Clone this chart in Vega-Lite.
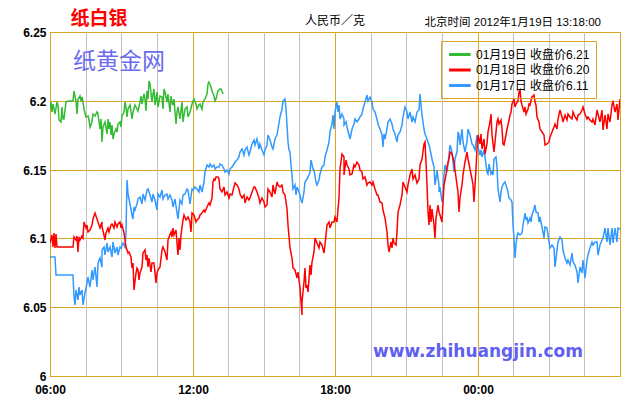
{
  "$schema": "https://vega.github.io/schema/vega-lite/v6.json",
  "width": 570,
  "height": 344,
  "autosize": {"type": "none"},
  "padding": {"left": 50, "top": 32, "right": 20, "bottom": 24},
  "background": "white",
  "config": {
    "view": {"stroke": "#daa520", "strokeWidth": 1},
    "axis": {"domain": false, "ticks": false, "labelFont": "Liberation Sans", "labelFontWeight": "bold", "labelFontSize": 12, "labelColor": "#000000", "gridWidth": 1, "gridOpacity": 1, "gridColor": "#daa520"}
  },
  "layer": [
    {
      "data": {"values": [{"g": 7.5}, {"g": 9}, {"g": 10.5}, {"g": 13.5}, {"g": 15}, {"g": 16.5}, {"g": 19.5}, {"g": 21}, {"g": 22.5}, {"g": 25.5}, {"g": 27}, {"g": 28.5}]},
      "mark": {"type": "rule", "color": "#c0c0c0", "strokeWidth": 1, "xOffset": 0.5},
      "encoding": {"x": {"field": "g", "type": "quantitative", "axis": {"title": null}}}
    },
    {
      "data": {"values": [
        {"s":"17","t":6.00,"v":6.0862},{"s":"17","t":6.21,"v":6.0862},{"s":"17","t":6.24,"v":6.0734},{"s":"17","t":6.98,"v":6.0734},{"s":"17","t":7.01,"v":6.0577},{"s":"17","t":7.05,"v":6.0517},{"s":"17","t":7.11,"v":6.0625},{"s":"17","t":7.16,"v":6.0553},{"s":"17","t":7.22,"v":6.0649},{"s":"17","t":7.28,"v":6.0589},{"s":"17","t":7.33,"v":6.0625},{"s":"17","t":7.40,"v":6.0517},{"s":"17","t":7.47,"v":6.0601},{"s":"17","t":7.54,"v":6.0674},{"s":"17","t":7.61,"v":6.0722},{"s":"17","t":7.68,"v":6.0649},{"s":"17","t":7.75,"v":6.0770},{"s":"17","t":7.82,"v":6.0698},{"s":"17","t":7.89,"v":6.0794},{"s":"17","t":7.96,"v":6.0649},{"s":"17","t":8.03,"v":6.0818},{"s":"17","t":8.10,"v":6.0855},{"s":"17","t":8.17,"v":6.0794},{"s":"17","t":8.21,"v":6.0915},{"s":"17","t":8.27,"v":6.0939},{"s":"17","t":8.31,"v":6.0879},{"s":"17","t":8.38,"v":6.0963},{"s":"17","t":8.45,"v":6.0903},{"s":"17","t":8.52,"v":6.0939},{"s":"17","t":8.59,"v":6.0867},{"s":"17","t":8.66,"v":6.0975},{"s":"17","t":8.73,"v":6.0891},{"s":"17","t":8.80,"v":6.0939},{"s":"17","t":8.87,"v":6.0879},{"s":"17","t":8.94,"v":6.0939},{"s":"17","t":9.01,"v":6.0927},{"s":"17","t":9.08,"v":6.0963},{"s":"17","t":9.15,"v":6.0939},{"s":"17","t":9.20,"v":6.1036},{"s":"17","t":9.24,"v":6.1422},{"s":"17","t":9.30,"v":6.1326},{"s":"17","t":9.37,"v":6.1253},{"s":"17","t":9.44,"v":6.1169},{"s":"17","t":9.48,"v":6.1144},{"s":"17","t":9.52,"v":6.1229},{"s":"17","t":9.58,"v":6.1205},{"s":"17","t":9.65,"v":6.1253},{"s":"17","t":9.72,"v":6.1289},{"s":"17","t":9.79,"v":6.1301},{"s":"17","t":9.86,"v":6.1253},{"s":"17","t":9.93,"v":6.1326},{"s":"17","t":10.00,"v":6.1277},{"s":"17","t":10.07,"v":6.1350},{"s":"17","t":10.14,"v":6.1362},{"s":"17","t":10.21,"v":6.1314},{"s":"17","t":10.28,"v":6.1265},{"s":"17","t":10.35,"v":6.1326},{"s":"17","t":10.42,"v":6.1277},{"s":"17","t":10.49,"v":6.1205},{"s":"17","t":10.56,"v":6.1326},{"s":"17","t":10.63,"v":6.1301},{"s":"17","t":10.70,"v":6.1350},{"s":"17","t":10.77,"v":6.1289},{"s":"17","t":10.84,"v":6.1314},{"s":"17","t":10.91,"v":6.1326},{"s":"17","t":10.98,"v":6.1289},{"s":"17","t":11.05,"v":6.1314},{"s":"17","t":11.12,"v":6.1277},{"s":"17","t":11.19,"v":6.1229},{"s":"17","t":11.26,"v":6.1289},{"s":"17","t":11.33,"v":6.1181},{"s":"17","t":11.37,"v":6.1144},{"s":"17","t":11.43,"v":6.1217},{"s":"17","t":11.48,"v":6.1277},{"s":"17","t":11.54,"v":6.1253},{"s":"17","t":11.61,"v":6.1314},{"s":"17","t":11.68,"v":6.1326},{"s":"17","t":11.75,"v":6.1362},{"s":"17","t":11.82,"v":6.1350},{"s":"17","t":11.89,"v":6.1253},{"s":"17","t":11.96,"v":6.1362},{"s":"17","t":12.03,"v":6.1350},{"s":"17","t":12.10,"v":6.1374},{"s":"17","t":12.21,"v":6.1362},
        {"s":"17","t":12.26,"v":6.1338},{"s":"17","t":12.33,"v":6.1387},{"s":"17","t":12.40,"v":6.1338},{"s":"17","t":12.47,"v":6.1411},{"s":"17","t":12.54,"v":6.1483},{"s":"17","t":12.61,"v":6.1531},{"s":"17","t":12.68,"v":6.1519},{"s":"17","t":12.75,"v":6.1544},{"s":"17","t":12.82,"v":6.1519},{"s":"17","t":12.89,"v":6.1531},{"s":"17","t":12.96,"v":6.1507},{"s":"17","t":13.03,"v":6.1519},{"s":"17","t":13.10,"v":6.1519},{"s":"17","t":13.17,"v":6.1544},{"s":"17","t":13.24,"v":6.1531},{"s":"17","t":13.31,"v":6.1507},{"s":"17","t":13.38,"v":6.1483},{"s":"17","t":13.45,"v":6.1495},{"s":"17","t":13.52,"v":6.1471},{"s":"17","t":13.59,"v":6.1507},{"s":"17","t":13.66,"v":6.1519},{"s":"17","t":13.73,"v":6.1544},{"s":"17","t":13.80,"v":6.1556},{"s":"17","t":13.87,"v":6.1568},{"s":"17","t":13.94,"v":6.1592},{"s":"17","t":14.01,"v":6.1628},{"s":"17","t":14.08,"v":6.1652},{"s":"17","t":14.15,"v":6.1604},{"s":"17","t":14.22,"v":6.1640},{"s":"17","t":14.29,"v":6.1664},{"s":"17","t":14.36,"v":6.1604},{"s":"17","t":14.43,"v":6.1628},{"s":"17","t":14.50,"v":6.1688},{"s":"17","t":14.57,"v":6.1713},{"s":"17","t":14.64,"v":6.1676},{"s":"17","t":14.71,"v":6.1725},{"s":"17","t":14.78,"v":6.1652},{"s":"17","t":14.85,"v":6.1688},{"s":"17","t":14.92,"v":6.1640},{"s":"17","t":14.99,"v":6.1604},{"s":"17","t":15.06,"v":6.1640},{"s":"17","t":15.13,"v":6.1676},{"s":"17","t":15.20,"v":6.1749},{"s":"17","t":15.27,"v":6.1713},{"s":"17","t":15.34,"v":6.1664},{"s":"17","t":15.41,"v":6.1652},{"s":"17","t":15.48,"v":6.1725},{"s":"17","t":15.55,"v":6.1749},{"s":"17","t":15.62,"v":6.1797},{"s":"17","t":15.69,"v":6.1882},{"s":"17","t":15.76,"v":6.1942},{"s":"17","t":15.83,"v":6.2002},{"s":"17","t":15.88,"v":6.2014},{"s":"17","t":15.92,"v":6.1942},{"s":"17","t":15.97,"v":6.1821},{"s":"17","t":16.02,"v":6.1700},{"s":"17","t":16.06,"v":6.1640},{"s":"17","t":16.11,"v":6.1628},{"s":"17","t":16.16,"v":6.1531},{"s":"17","t":16.20,"v":6.1459},{"s":"17","t":16.25,"v":6.1362},{"s":"17","t":16.32,"v":6.1387},{"s":"17","t":16.37,"v":6.1314},{"s":"17","t":16.42,"v":6.1374},{"s":"17","t":16.48,"v":6.1338},{"s":"17","t":16.53,"v":6.1314},{"s":"17","t":16.58,"v":6.1278},{"s":"17","t":16.63,"v":6.1254},{"s":"17","t":16.68,"v":6.1338},{"s":"17","t":16.74,"v":6.1411},{"s":"17","t":16.81,"v":6.1435},{"s":"17","t":16.89,"v":6.1459},{"s":"17","t":16.96,"v":6.1483},{"s":"17","t":17.01,"v":6.1568},{"s":"17","t":17.07,"v":6.1507},{"s":"17","t":17.12,"v":6.1495},{"s":"17","t":17.18,"v":6.1411},{"s":"17","t":17.24,"v":6.1387},{"s":"17","t":17.31,"v":6.1423},{"s":"17","t":17.38,"v":6.1471},{"s":"17","t":17.45,"v":6.1519},{"s":"17","t":17.52,"v":6.1531},{"s":"17","t":17.59,"v":6.1592},{"s":"17","t":17.66,"v":6.1640},{"s":"17","t":17.73,"v":6.1700},{"s":"17","t":17.80,"v":6.1773},{"s":"17","t":17.87,"v":6.1833},{"s":"17","t":17.91,"v":6.1894},{"s":"17","t":17.97,"v":6.1797},{"s":"17","t":18.02,"v":6.1918},{"s":"17","t":18.08,"v":6.1990},
        {"s":"17","t":18.12,"v":6.1918},{"s":"17","t":18.18,"v":6.1966},{"s":"17","t":18.23,"v":6.1870},{"s":"17","t":18.29,"v":6.1906},{"s":"17","t":18.36,"v":6.1870},{"s":"17","t":18.40,"v":6.1821},{"s":"17","t":18.46,"v":6.1845},{"s":"17","t":18.51,"v":6.1809},{"s":"17","t":18.57,"v":6.1749},{"s":"17","t":18.64,"v":6.1725},{"s":"17","t":18.71,"v":6.1797},{"s":"17","t":18.78,"v":6.1833},{"s":"17","t":18.85,"v":6.1870},{"s":"17","t":18.92,"v":6.1845},{"s":"17","t":18.99,"v":6.1870},{"s":"17","t":19.06,"v":6.1882},{"s":"17","t":19.13,"v":6.1906},{"s":"17","t":19.20,"v":6.1942},{"s":"17","t":19.27,"v":6.1990},{"s":"17","t":19.34,"v":6.2039},{"s":"17","t":19.41,"v":6.2002},{"s":"17","t":19.48,"v":6.2026},{"s":"17","t":19.55,"v":6.1990},{"s":"17","t":19.62,"v":6.1942},{"s":"17","t":19.69,"v":6.1918},{"s":"17","t":19.76,"v":6.1870},{"s":"17","t":19.83,"v":6.1833},{"s":"17","t":19.90,"v":6.1797},{"s":"17","t":19.97,"v":6.1749},{"s":"17","t":20.01,"v":6.1664},{"s":"17","t":20.07,"v":6.1761},{"s":"17","t":20.11,"v":6.1725},{"s":"17","t":20.18,"v":6.1797},{"s":"17","t":20.25,"v":6.1845},{"s":"17","t":20.32,"v":6.1870},{"s":"17","t":20.39,"v":6.1833},{"s":"17","t":20.46,"v":6.1797},{"s":"17","t":20.53,"v":6.1761},{"s":"17","t":20.60,"v":6.1700},{"s":"17","t":20.67,"v":6.1749},{"s":"17","t":20.74,"v":6.1773},{"s":"17","t":20.81,"v":6.1821},{"s":"17","t":20.88,"v":6.1882},{"s":"17","t":20.95,"v":6.1954},{"s":"17","t":21.02,"v":6.1918},{"s":"17","t":21.09,"v":6.1870},{"s":"17","t":21.16,"v":6.1918},{"s":"17","t":21.23,"v":6.1845},{"s":"17","t":21.30,"v":6.1882},{"s":"17","t":21.38,"v":6.1845},{"s":"17","t":21.45,"v":6.1918},{"s":"17","t":21.52,"v":6.1930},{"s":"17","t":21.59,"v":6.2051},{"s":"17","t":21.63,"v":6.1966},{"s":"17","t":21.68,"v":6.1894},{"s":"17","t":21.74,"v":6.1797},{"s":"17","t":21.80,"v":6.1761},{"s":"17","t":21.87,"v":6.1725},{"s":"17","t":21.94,"v":6.1676},{"s":"17","t":22.01,"v":6.1652},{"s":"17","t":22.08,"v":6.1580},{"s":"17","t":22.15,"v":6.1519},{"s":"17","t":22.22,"v":6.1387},{"s":"17","t":22.26,"v":6.1435},{"s":"17","t":22.30,"v":6.1495},{"s":"17","t":22.36,"v":6.1387},{"s":"17","t":22.40,"v":6.1338},{"s":"17","t":22.44,"v":6.1374},{"s":"17","t":22.50,"v":6.1266},{"s":"17","t":22.54,"v":6.1290},{"s":"17","t":22.58,"v":6.1459},{"s":"17","t":22.64,"v":6.1531},{"s":"17","t":22.71,"v":6.1483},{"s":"17","t":22.78,"v":6.1604},{"s":"17","t":22.85,"v":6.1676},{"s":"17","t":22.92,"v":6.1628},{"s":"17","t":22.99,"v":6.1483},{"s":"17","t":23.06,"v":6.1580},{"s":"17","t":23.13,"v":6.1628},{"s":"17","t":23.17,"v":6.1773},{"s":"17","t":23.23,"v":6.1749},{"s":"17","t":23.28,"v":6.1676},{"s":"17","t":23.34,"v":6.1797},{"s":"17","t":23.41,"v":6.1700},{"s":"17","t":23.48,"v":6.1628},{"s":"17","t":23.55,"v":6.1700},{"s":"17","t":23.62,"v":6.1797},{"s":"17","t":23.69,"v":6.1749},{"s":"17","t":23.76,"v":6.1688},{"s":"17","t":23.83,"v":6.1676},{"s":"17","t":23.90,"v":6.1640},
        {"s":"17","t":23.97,"v":6.1749},{"s":"17","t":24.04,"v":6.1664},{"s":"17","t":24.10,"v":6.1604},{"s":"17","t":24.15,"v":6.1640},{"s":"17","t":24.21,"v":6.1592},{"s":"17","t":24.26,"v":6.1640},{"s":"17","t":24.32,"v":6.1592},{"s":"17","t":24.38,"v":6.1483},{"s":"17","t":24.43,"v":6.1471},{"s":"17","t":24.49,"v":6.1544},{"s":"17","t":24.55,"v":6.1471},{"s":"17","t":24.60,"v":6.1483},{"s":"17","t":24.66,"v":6.1459},{"s":"17","t":24.71,"v":6.1580},{"s":"17","t":24.77,"v":6.1592},{"s":"17","t":24.83,"v":6.1519},{"s":"17","t":24.88,"v":6.1362},{"s":"17","t":24.94,"v":6.1266},{"s":"17","t":24.99,"v":6.1338},{"s":"17","t":25.05,"v":6.1374},{"s":"17","t":25.11,"v":6.1399},{"s":"17","t":25.16,"v":6.1411},{"s":"17","t":25.22,"v":6.1387},{"s":"17","t":25.27,"v":6.1338},{"s":"17","t":25.33,"v":6.1290},{"s":"17","t":25.39,"v":6.1278},{"s":"17","t":25.44,"v":6.1266},{"s":"17","t":25.49,"v":6.1097},{"s":"17","t":25.53,"v":6.1000},{"s":"17","t":25.56,"v":6.0855},{"s":"17","t":25.60,"v":6.0952},{"s":"17","t":25.65,"v":6.1012},{"s":"17","t":25.72,"v":6.1036},{"s":"17","t":25.79,"v":6.1024},{"s":"17","t":25.86,"v":6.1036},{"s":"17","t":25.93,"v":6.1097},{"s":"17","t":25.98,"v":6.1181},{"s":"17","t":26.03,"v":6.1133},{"s":"17","t":26.09,"v":6.1157},{"s":"17","t":26.14,"v":6.1109},{"s":"17","t":26.20,"v":6.1145},{"s":"17","t":26.26,"v":6.1121},{"s":"17","t":26.31,"v":6.1169},{"s":"17","t":26.37,"v":6.1217},{"s":"17","t":26.43,"v":6.1242},{"s":"17","t":26.48,"v":6.1193},{"s":"17","t":26.54,"v":6.1181},{"s":"17","t":26.59,"v":6.1121},{"s":"17","t":26.65,"v":6.1157},{"s":"17","t":26.71,"v":6.1085},{"s":"17","t":26.78,"v":6.1000},{"s":"17","t":26.85,"v":6.1085},{"s":"17","t":26.92,"v":6.1073},{"s":"17","t":26.99,"v":6.0976},{"s":"17","t":27.06,"v":6.0928},{"s":"17","t":27.13,"v":6.0952},{"s":"17","t":27.20,"v":6.0928},{"s":"17","t":27.27,"v":6.0795},{"s":"17","t":27.34,"v":6.0916},{"s":"17","t":27.41,"v":6.0976},{"s":"17","t":27.48,"v":6.1012},{"s":"17","t":27.55,"v":6.0988},{"s":"17","t":27.62,"v":6.0916},{"s":"17","t":27.69,"v":6.0855},{"s":"17","t":27.76,"v":6.0819},{"s":"17","t":27.83,"v":6.0843},{"s":"17","t":27.90,"v":6.0807},{"s":"17","t":27.97,"v":6.0891},{"s":"17","t":28.04,"v":6.0831},{"s":"17","t":28.11,"v":6.0807},{"s":"17","t":28.18,"v":6.0759},{"s":"17","t":28.25,"v":6.0674},{"s":"17","t":28.32,"v":6.0795},{"s":"17","t":28.39,"v":6.0747},{"s":"17","t":28.46,"v":6.0843},{"s":"17","t":28.53,"v":6.0710},{"s":"17","t":28.60,"v":6.0843},{"s":"17","t":28.67,"v":6.0879},{"s":"17","t":28.74,"v":6.0928},{"s":"17","t":28.81,"v":6.0976},{"s":"17","t":28.88,"v":6.0952},{"s":"17","t":28.95,"v":6.0976},{"s":"17","t":29.02,"v":6.0976},{"s":"17","t":29.09,"v":6.0879},{"s":"17","t":29.16,"v":6.0952},{"s":"17","t":29.23,"v":6.0988},{"s":"17","t":29.30,"v":6.1000},{"s":"17","t":29.37,"v":6.1073},{"s":"17","t":29.44,"v":6.0976},{"s":"17","t":29.51,"v":6.1073},{"s":"17","t":29.58,"v":6.0952},{"s":"17","t":29.65,"v":6.1073},{"s":"17","t":29.72,"v":6.0964},{"s":"17","t":29.79,"v":6.1073},{"s":"17","t":29.86,"v":6.0976},{"s":"17","t":29.93,"v":6.1073},{"s":"17","t":29.99,"v":6.1070},
        {"s":"18","t":6.00,"v":6.0963},{"s":"18","t":6.07,"v":6.1024},{"s":"18","t":6.11,"v":6.0939},{"s":"18","t":6.15,"v":6.1036},{"s":"18","t":6.19,"v":6.0927},{"s":"18","t":6.24,"v":6.1031},{"s":"18","t":6.28,"v":6.0939},{"s":"18","t":6.63,"v":6.0939},{"s":"18","t":6.98,"v":6.0939},{"s":"18","t":7.01,"v":6.1012},{"s":"18","t":7.08,"v":6.0987},{"s":"18","t":7.12,"v":6.1016},{"s":"18","t":7.16,"v":6.0903},{"s":"18","t":7.22,"v":6.1012},{"s":"18","t":7.28,"v":6.0987},{"s":"18","t":7.33,"v":6.1016},{"s":"18","t":7.39,"v":6.1000},{"s":"18","t":7.44,"v":6.1120},{"s":"18","t":7.50,"v":6.1072},{"s":"18","t":7.56,"v":6.1096},{"s":"18","t":7.61,"v":6.1048},{"s":"18","t":7.68,"v":6.1060},{"s":"18","t":7.75,"v":6.1096},{"s":"18","t":7.82,"v":6.1144},{"s":"18","t":7.89,"v":6.1181},{"s":"18","t":7.96,"v":6.1144},{"s":"18","t":8.03,"v":6.1120},{"s":"18","t":8.10,"v":6.1072},{"s":"18","t":8.17,"v":6.1120},{"s":"18","t":8.21,"v":6.1084},{"s":"18","t":8.27,"v":6.1024},{"s":"18","t":8.31,"v":6.0987},{"s":"18","t":8.36,"v":6.1036},{"s":"18","t":8.43,"v":6.1072},{"s":"18","t":8.50,"v":6.1048},{"s":"18","t":8.57,"v":6.1096},{"s":"18","t":8.62,"v":6.1108},{"s":"18","t":8.69,"v":6.1072},{"s":"18","t":8.73,"v":6.1120},{"s":"18","t":8.80,"v":6.1084},{"s":"18","t":8.87,"v":6.1108},{"s":"18","t":8.94,"v":6.1120},{"s":"18","t":8.99,"v":6.1072},{"s":"18","t":9.04,"v":6.1096},{"s":"18","t":9.10,"v":6.1036},{"s":"18","t":9.15,"v":6.0987},{"s":"18","t":9.22,"v":6.0939},{"s":"18","t":9.27,"v":6.0891},{"s":"18","t":9.34,"v":6.0903},{"s":"18","t":9.41,"v":6.0867},{"s":"18","t":9.46,"v":6.0782},{"s":"18","t":9.51,"v":6.0818},{"s":"18","t":9.55,"v":6.0625},{"s":"18","t":9.60,"v":6.0746},{"s":"18","t":9.65,"v":6.0782},{"s":"18","t":9.72,"v":6.0770},{"s":"18","t":9.76,"v":6.0698},{"s":"18","t":9.81,"v":6.0746},{"s":"18","t":9.88,"v":6.0794},{"s":"18","t":9.93,"v":6.0891},{"s":"18","t":10.00,"v":6.0915},{"s":"18","t":10.04,"v":6.0843},{"s":"18","t":10.10,"v":6.0879},{"s":"18","t":10.14,"v":6.0794},{"s":"18","t":10.18,"v":6.0855},{"s":"18","t":10.25,"v":6.0758},{"s":"18","t":10.31,"v":6.0818},{"s":"18","t":10.39,"v":6.0818},{"s":"18","t":10.45,"v":6.0674},{"s":"18","t":10.50,"v":6.0746},{"s":"18","t":10.56,"v":6.0770},{"s":"18","t":10.63,"v":6.0794},{"s":"18","t":10.70,"v":6.0915},{"s":"18","t":10.77,"v":6.0939},{"s":"18","t":10.84,"v":6.0903},{"s":"18","t":10.91,"v":6.0843},{"s":"18","t":10.95,"v":6.0987},{"s":"18","t":11.02,"v":6.1012},{"s":"18","t":11.08,"v":6.1048},{"s":"18","t":11.12,"v":6.1012},{"s":"18","t":11.16,"v":6.1072},{"s":"18","t":11.22,"v":6.1024},{"s":"18","t":11.29,"v":6.1060},{"s":"18","t":11.34,"v":6.0963},{"s":"18","t":11.39,"v":6.0879},{"s":"18","t":11.43,"v":6.1000},{"s":"18","t":11.48,"v":6.0915},{"s":"18","t":11.53,"v":6.1024},{"s":"18","t":11.58,"v":6.1132},{"s":"18","t":11.65,"v":6.1169},{"s":"18","t":11.72,"v":6.1132},{"s":"18","t":11.79,"v":6.1157},{"s":"18","t":11.88,"v":6.1120},{"s":"18","t":11.93,"v":6.1048},{"s":"18","t":11.99,"v":6.1181},{"s":"18","t":12.07,"v":6.1169},{"s":"18","t":12.14,"v":6.1120},{"s":"18","t":12.21,"v":6.1132},
        {"s":"18","t":12.26,"v":6.1145},{"s":"18","t":12.33,"v":6.1169},{"s":"18","t":12.40,"v":6.1181},{"s":"18","t":12.47,"v":6.1205},{"s":"18","t":12.54,"v":6.1193},{"s":"18","t":12.61,"v":6.1229},{"s":"18","t":12.68,"v":6.1254},{"s":"18","t":12.75,"v":6.1242},{"s":"18","t":12.82,"v":6.1290},{"s":"18","t":12.86,"v":6.1411},{"s":"18","t":12.92,"v":6.1435},{"s":"18","t":12.96,"v":6.1423},{"s":"18","t":13.00,"v":6.1447},{"s":"18","t":13.06,"v":6.1447},{"s":"18","t":13.11,"v":6.1435},{"s":"18","t":13.17,"v":6.1362},{"s":"18","t":13.24,"v":6.1338},{"s":"18","t":13.31,"v":6.1374},{"s":"18","t":13.38,"v":6.1314},{"s":"18","t":13.45,"v":6.1338},{"s":"18","t":13.52,"v":6.1290},{"s":"18","t":13.59,"v":6.1326},{"s":"18","t":13.66,"v":6.1314},{"s":"18","t":13.73,"v":6.1374},{"s":"18","t":13.80,"v":6.1399},{"s":"18","t":13.87,"v":6.1387},{"s":"18","t":13.94,"v":6.1362},{"s":"18","t":14.01,"v":6.1326},{"s":"18","t":14.08,"v":6.1290},{"s":"18","t":14.15,"v":6.1314},{"s":"18","t":14.22,"v":6.1254},{"s":"18","t":14.29,"v":6.1302},{"s":"18","t":14.36,"v":6.1278},{"s":"18","t":14.43,"v":6.1290},{"s":"18","t":14.50,"v":6.1338},{"s":"18","t":14.57,"v":6.1374},{"s":"18","t":14.64,"v":6.1374},{"s":"18","t":14.71,"v":6.1338},{"s":"18","t":14.78,"v":6.1290},{"s":"18","t":14.85,"v":6.1254},{"s":"18","t":14.92,"v":6.1290},{"s":"18","t":14.99,"v":6.1266},{"s":"18","t":15.06,"v":6.1229},{"s":"18","t":15.13,"v":6.1242},{"s":"18","t":15.20,"v":6.1362},{"s":"18","t":15.27,"v":6.1338},{"s":"18","t":15.34,"v":6.1302},{"s":"18","t":15.41,"v":6.1387},{"s":"18","t":15.48,"v":6.1326},{"s":"18","t":15.55,"v":6.1411},{"s":"18","t":15.62,"v":6.1387},{"s":"18","t":15.69,"v":6.1374},{"s":"18","t":15.76,"v":6.1387},{"s":"18","t":15.83,"v":6.1338},{"s":"18","t":15.90,"v":6.1314},{"s":"18","t":15.97,"v":6.1217},{"s":"18","t":16.04,"v":6.1097},{"s":"18","t":16.11,"v":6.0928},{"s":"18","t":16.18,"v":6.0855},{"s":"18","t":16.25,"v":6.0783},{"s":"18","t":16.30,"v":6.0771},{"s":"18","t":16.39,"v":6.0710},{"s":"18","t":16.46,"v":6.0759},{"s":"18","t":16.53,"v":6.0638},{"s":"18","t":16.59,"v":6.0445},{"s":"18","t":16.63,"v":6.0541},{"s":"18","t":16.68,"v":6.0686},{"s":"18","t":16.72,"v":6.0783},{"s":"18","t":16.76,"v":6.0638},{"s":"18","t":16.81,"v":6.0662},{"s":"18","t":16.87,"v":6.0614},{"s":"18","t":16.93,"v":6.0807},{"s":"18","t":16.98,"v":6.0735},{"s":"18","t":17.04,"v":6.0831},{"s":"18","t":17.10,"v":6.0904},{"s":"18","t":17.17,"v":6.1000},{"s":"18","t":17.24,"v":6.0964},{"s":"18","t":17.31,"v":6.0928},{"s":"18","t":17.38,"v":6.0976},{"s":"18","t":17.45,"v":6.0952},{"s":"18","t":17.52,"v":6.0891},{"s":"18","t":17.59,"v":6.0952},{"s":"18","t":17.66,"v":6.1097},{"s":"18","t":17.73,"v":6.1121},{"s":"18","t":17.80,"v":6.1073},{"s":"18","t":17.87,"v":6.1121},{"s":"18","t":17.94,"v":6.1121},{"s":"18","t":18.01,"v":6.1157},
        {"s":"18","t":18.08,"v":6.1121},{"s":"18","t":18.12,"v":6.1217},{"s":"18","t":18.18,"v":6.1290},{"s":"18","t":18.23,"v":6.1507},{"s":"18","t":18.29,"v":6.1616},{"s":"18","t":18.36,"v":6.1592},{"s":"18","t":18.40,"v":6.1459},{"s":"18","t":18.46,"v":6.1568},{"s":"18","t":18.50,"v":6.1531},{"s":"18","t":18.57,"v":6.1507},{"s":"18","t":18.64,"v":6.1459},{"s":"18","t":18.71,"v":6.1471},{"s":"18","t":18.78,"v":6.1531},{"s":"18","t":18.85,"v":6.1519},{"s":"18","t":18.92,"v":6.1556},{"s":"18","t":18.99,"v":6.1531},{"s":"18","t":19.06,"v":6.1495},{"s":"18","t":19.13,"v":6.1483},{"s":"18","t":19.20,"v":6.1435},{"s":"18","t":19.27,"v":6.1447},{"s":"18","t":19.34,"v":6.1387},{"s":"18","t":19.41,"v":6.1399},{"s":"18","t":19.48,"v":6.1411},{"s":"18","t":19.55,"v":6.1387},{"s":"18","t":19.62,"v":6.1411},{"s":"18","t":19.69,"v":6.1362},{"s":"18","t":19.76,"v":6.1314},{"s":"18","t":19.83,"v":6.1314},{"s":"18","t":19.90,"v":6.1266},{"s":"18","t":19.97,"v":6.1254},{"s":"18","t":20.04,"v":6.1205},{"s":"18","t":20.11,"v":6.1145},{"s":"18","t":20.18,"v":6.1048},{"s":"18","t":20.22,"v":6.0952},{"s":"18","t":20.28,"v":6.0904},{"s":"18","t":20.34,"v":6.0976},{"s":"18","t":20.39,"v":6.0928},{"s":"18","t":20.45,"v":6.1000},{"s":"18","t":20.50,"v":6.0964},{"s":"18","t":20.56,"v":6.0952},{"s":"18","t":20.62,"v":6.1048},{"s":"18","t":20.67,"v":6.1193},{"s":"18","t":20.74,"v":6.1242},{"s":"18","t":20.81,"v":6.1314},{"s":"18","t":20.88,"v":6.1411},{"s":"18","t":20.95,"v":6.1374},{"s":"18","t":21.02,"v":6.1338},{"s":"18","t":21.09,"v":6.1387},{"s":"18","t":21.16,"v":6.1459},{"s":"18","t":21.23,"v":6.1507},{"s":"18","t":21.30,"v":6.1435},{"s":"18","t":21.38,"v":6.1459},{"s":"18","t":21.45,"v":6.1399},{"s":"18","t":21.52,"v":6.1435},{"s":"18","t":21.59,"v":6.1531},{"s":"18","t":21.66,"v":6.1580},{"s":"18","t":21.73,"v":6.1688},{"s":"18","t":21.77,"v":6.1700},{"s":"18","t":21.82,"v":6.1556},{"s":"18","t":21.88,"v":6.1387},{"s":"18","t":21.92,"v":6.1193},{"s":"18","t":21.96,"v":6.1097},{"s":"18","t":22.01,"v":6.1242},{"s":"18","t":22.05,"v":6.1121},{"s":"18","t":22.10,"v":6.1217},{"s":"18","t":22.16,"v":6.1097},{"s":"18","t":22.22,"v":6.1000},{"s":"18","t":22.27,"v":6.1145},{"s":"18","t":22.33,"v":6.1242},{"s":"18","t":22.38,"v":6.1193},{"s":"18","t":22.44,"v":6.1169},{"s":"18","t":22.50,"v":6.1121},{"s":"18","t":22.55,"v":6.1266},{"s":"18","t":22.61,"v":6.1387},{"s":"18","t":22.67,"v":6.1459},{"s":"18","t":22.72,"v":6.1519},{"s":"18","t":22.78,"v":6.1580},{"s":"18","t":22.85,"v":6.1628},{"s":"18","t":22.92,"v":6.1616},{"s":"18","t":22.99,"v":6.1556},{"s":"18","t":23.06,"v":6.1495},{"s":"18","t":23.13,"v":6.1387},{"s":"18","t":23.17,"v":6.1338},{"s":"18","t":23.23,"v":6.1193},{"s":"18","t":23.27,"v":6.1290},{"s":"18","t":23.34,"v":6.1387},{"s":"18","t":23.41,"v":6.1459},{"s":"18","t":23.48,"v":6.1556},{"s":"18","t":23.55,"v":6.1628},{"s":"18","t":23.62,"v":6.1580},{"s":"18","t":23.69,"v":6.1507},{"s":"18","t":23.76,"v":6.1435},{"s":"18","t":23.83,"v":6.1387},{"s":"18","t":23.87,"v":6.1266},
        {"s":"18","t":23.94,"v":6.1507},{"s":"18","t":23.98,"v":6.1652},{"s":"18","t":24.04,"v":6.1749},{"s":"18","t":24.10,"v":6.1688},{"s":"18","t":24.15,"v":6.1761},{"s":"18","t":24.21,"v":6.1652},{"s":"18","t":24.26,"v":6.1725},{"s":"18","t":24.32,"v":6.1616},{"s":"18","t":24.39,"v":6.1688},{"s":"18","t":24.46,"v":6.1773},{"s":"18","t":24.53,"v":6.1845},{"s":"18","t":24.57,"v":6.1906},{"s":"18","t":24.63,"v":6.1749},{"s":"18","t":24.69,"v":6.1628},{"s":"18","t":24.74,"v":6.1700},{"s":"18","t":24.80,"v":6.1845},{"s":"18","t":24.85,"v":6.1870},{"s":"18","t":24.91,"v":6.1833},{"s":"18","t":24.97,"v":6.1857},{"s":"18","t":25.02,"v":6.1797},{"s":"18","t":25.08,"v":6.1688},{"s":"18","t":25.13,"v":6.1676},{"s":"18","t":25.19,"v":6.1749},{"s":"18","t":25.25,"v":6.1797},{"s":"18","t":25.30,"v":6.1821},{"s":"18","t":25.36,"v":6.1894},{"s":"18","t":25.42,"v":6.1918},{"s":"18","t":25.47,"v":6.1978},{"s":"18","t":25.53,"v":6.2014},{"s":"18","t":25.58,"v":6.1954},{"s":"18","t":25.64,"v":6.1978},{"s":"18","t":25.70,"v":6.2002},{"s":"18","t":25.75,"v":6.2063},{"s":"18","t":25.79,"v":6.2075},{"s":"18","t":25.84,"v":6.2002},{"s":"18","t":25.89,"v":6.1966},{"s":"18","t":25.95,"v":6.1918},{"s":"18","t":26.00,"v":6.1954},{"s":"18","t":26.06,"v":6.1906},{"s":"18","t":26.12,"v":6.1942},{"s":"18","t":26.17,"v":6.1978},{"s":"18","t":26.23,"v":6.1966},{"s":"18","t":26.29,"v":6.2026},{"s":"18","t":26.36,"v":6.2039},{"s":"18","t":26.40,"v":6.1990},{"s":"18","t":26.45,"v":6.1966},{"s":"18","t":26.51,"v":6.1882},{"s":"18","t":26.57,"v":6.1845},{"s":"18","t":26.64,"v":6.1797},{"s":"18","t":26.71,"v":6.1773},{"s":"18","t":26.78,"v":6.1749},{"s":"18","t":26.85,"v":6.1676},{"s":"18","t":26.92,"v":6.1688},{"s":"18","t":26.99,"v":6.1700},{"s":"18","t":27.06,"v":6.1737},{"s":"18","t":27.13,"v":6.1773},{"s":"18","t":27.20,"v":6.1809},{"s":"18","t":27.27,"v":6.1833},{"s":"18","t":27.34,"v":6.1797},{"s":"18","t":27.41,"v":6.1870},{"s":"18","t":27.48,"v":6.1930},{"s":"18","t":27.55,"v":6.1882},{"s":"18","t":27.62,"v":6.1845},{"s":"18","t":27.69,"v":6.1894},{"s":"18","t":27.76,"v":6.1857},{"s":"18","t":27.83,"v":6.1906},{"s":"18","t":27.90,"v":6.1882},{"s":"18","t":27.97,"v":6.1870},{"s":"18","t":28.04,"v":6.1918},{"s":"18","t":28.11,"v":6.1882},{"s":"18","t":28.18,"v":6.1857},{"s":"18","t":28.25,"v":6.1894},{"s":"18","t":28.32,"v":6.1906},{"s":"18","t":28.39,"v":6.1930},{"s":"18","t":28.46,"v":6.1954},{"s":"18","t":28.53,"v":6.1906},{"s":"18","t":28.60,"v":6.1870},{"s":"18","t":28.67,"v":6.1882},{"s":"18","t":28.74,"v":6.1857},{"s":"18","t":28.81,"v":6.1845},{"s":"18","t":28.88,"v":6.1870},{"s":"18","t":28.95,"v":6.1821},{"s":"18","t":29.02,"v":6.1930},{"s":"18","t":29.09,"v":6.1906},{"s":"18","t":29.16,"v":6.1845},{"s":"18","t":29.23,"v":6.1930},{"s":"18","t":29.30,"v":6.1785},{"s":"18","t":29.37,"v":6.1894},{"s":"18","t":29.44,"v":6.1797},{"s":"18","t":29.51,"v":6.1906},{"s":"18","t":29.58,"v":6.1845},{"s":"18","t":29.65,"v":6.1966},{"s":"18","t":29.72,"v":6.2002},{"s":"18","t":29.79,"v":6.1918},{"s":"18","t":29.86,"v":6.1978},{"s":"18","t":29.93,"v":6.1857},{"s":"18","t":29.99,"v":6.2014},
        {"s":"19","t":6.00,"v":6.1942},{"s":"19","t":6.04,"v":6.1990},{"s":"19","t":6.10,"v":6.1917},{"s":"19","t":6.14,"v":6.1978},{"s":"19","t":6.21,"v":6.1905},{"s":"19","t":6.28,"v":6.1990},{"s":"19","t":6.35,"v":6.1966},{"s":"19","t":6.39,"v":6.1857},{"s":"19","t":6.46,"v":6.1845},{"s":"19","t":6.49,"v":6.1954},{"s":"19","t":6.53,"v":6.1869},{"s":"19","t":6.60,"v":6.1869},{"s":"19","t":6.66,"v":6.1990},{"s":"19","t":6.77,"v":6.1995},{"s":"19","t":6.91,"v":6.1995},{"s":"19","t":6.98,"v":6.2002},{"s":"19","t":7.02,"v":6.2074},{"s":"19","t":7.08,"v":6.2002},{"s":"19","t":7.15,"v":6.1905},{"s":"19","t":7.19,"v":6.2014},{"s":"19","t":7.26,"v":6.2038},{"s":"19","t":7.30,"v":6.2002},{"s":"19","t":7.36,"v":6.2026},{"s":"19","t":7.40,"v":6.1990},{"s":"19","t":7.44,"v":6.1942},{"s":"19","t":7.50,"v":6.1881},{"s":"19","t":7.58,"v":6.1893},{"s":"19","t":7.64,"v":6.1857},{"s":"19","t":7.68,"v":6.1809},{"s":"19","t":7.75,"v":6.1845},{"s":"19","t":7.82,"v":6.1905},{"s":"19","t":7.89,"v":6.1893},{"s":"19","t":7.96,"v":6.1917},{"s":"19","t":8.03,"v":6.1905},{"s":"19","t":8.10,"v":6.1797},{"s":"19","t":8.14,"v":6.1869},{"s":"19","t":8.20,"v":6.1700},{"s":"19","t":8.24,"v":6.1809},{"s":"19","t":8.31,"v":6.1845},{"s":"19","t":8.38,"v":6.1760},{"s":"19","t":8.43,"v":6.1869},{"s":"19","t":8.48,"v":6.1797},{"s":"19","t":8.52,"v":6.1845},{"s":"19","t":8.57,"v":6.1748},{"s":"19","t":8.62,"v":6.1821},{"s":"19","t":8.66,"v":6.1724},{"s":"19","t":8.71,"v":6.1760},{"s":"19","t":8.76,"v":6.1797},{"s":"19","t":8.80,"v":6.1772},{"s":"19","t":8.87,"v":6.1833},{"s":"19","t":8.94,"v":6.1845},{"s":"19","t":8.99,"v":6.1809},{"s":"19","t":9.04,"v":6.1893},{"s":"19","t":9.10,"v":6.1917},{"s":"19","t":9.15,"v":6.1990},{"s":"19","t":9.20,"v":6.1954},{"s":"19","t":9.24,"v":6.1881},{"s":"19","t":9.30,"v":6.1942},{"s":"19","t":9.37,"v":6.1966},{"s":"19","t":9.44,"v":6.1869},{"s":"19","t":9.51,"v":6.1917},{"s":"19","t":9.58,"v":6.1966},{"s":"19","t":9.65,"v":6.1942},{"s":"19","t":9.72,"v":6.1929},{"s":"19","t":9.79,"v":6.1990},{"s":"19","t":9.83,"v":6.2038},{"s":"19","t":9.88,"v":6.1978},{"s":"19","t":9.94,"v":6.2050},{"s":"19","t":10.00,"v":6.2014},{"s":"19","t":10.04,"v":6.1929},{"s":"19","t":10.08,"v":6.2074},{"s":"19","t":10.14,"v":6.2014},{"s":"19","t":10.18,"v":6.2147},{"s":"19","t":10.22,"v":6.2123},{"s":"19","t":10.28,"v":6.1990},{"s":"19","t":10.32,"v":6.2050},{"s":"19","t":10.36,"v":6.2086},{"s":"19","t":10.42,"v":6.1966},{"s":"19","t":10.46,"v":6.2014},{"s":"19","t":10.50,"v":6.2062},{"s":"19","t":10.56,"v":6.1954},{"s":"19","t":10.63,"v":6.2038},{"s":"19","t":10.70,"v":6.2026},{"s":"19","t":10.74,"v":6.1942},{"s":"19","t":10.80,"v":6.2086},{"s":"19","t":10.84,"v":6.2062},{"s":"19","t":10.91,"v":6.1990},{"s":"19","t":10.98,"v":6.2050},{"s":"19","t":11.05,"v":6.1917},{"s":"19","t":11.09,"v":6.2038},{"s":"19","t":11.15,"v":6.1990},{"s":"19","t":11.19,"v":6.1966},{"s":"19","t":11.23,"v":6.2014},{"s":"19","t":11.29,"v":6.1833},{"s":"19","t":11.33,"v":6.1917},{"s":"19","t":11.40,"v":6.1954},{"s":"19","t":11.47,"v":6.1869},{"s":"19","t":11.54,"v":6.1990},{"s":"19","t":11.61,"v":6.1845},{"s":"19","t":11.68,"v":6.1942},{"s":"19","t":11.75,"v":6.1954},{"s":"19","t":11.82,"v":6.1881},{"s":"19","t":11.89,"v":6.1917},{"s":"19","t":11.96,"v":6.1978},{"s":"19","t":12.00,"v":6.2002},{"s":"19","t":12.07,"v":6.2014},{"s":"19","t":12.13,"v":6.1978},{"s":"19","t":12.21,"v":6.1942},{"s":"19","t":12.27,"v":6.1966},{"s":"19","t":12.33,"v":6.1978},{"s":"19","t":12.38,"v":6.1942},{"s":"19","t":12.45,"v":6.1990},{"s":"19","t":12.52,"v":6.2014},{"s":"19","t":12.59,"v":6.2050},{"s":"19","t":12.66,"v":6.2123},{"s":"19","t":12.70,"v":6.2135},{"s":"19","t":12.77,"v":6.2098},{"s":"19","t":12.83,"v":6.2074},{"s":"19","t":12.89,"v":6.2038},{"s":"19","t":12.94,"v":6.2002},{"s":"19","t":13.01,"v":6.2014},{"s":"19","t":13.08,"v":6.2074},{"s":"19","t":13.15,"v":6.2086},{"s":"19","t":13.22,"v":6.2086},{"s":"19","t":13.29,"v":6.2050}
      ]},
      "mark": {"type": "line", "strokeWidth": 1.5, "clip": true},
      "encoding": {
        "x": {"field": "t", "type": "quantitative",
          "scale": {"domain": [6, 30], "nice": false, "zero": false, "round": true},
          "axis": {"title": null, "values": [6, 12, 18, 24, 30],
            "labelExpr": "datum.value < 30 ? ((datum.value % 24) < 10 ? '0' : '') + (datum.value % 24) + ':00' : ''",
            "labelOverlap": false, "labelFlush": false, "labelPadding": 8, "gridColor": "#daa520"}},
        "y": {"field": "v", "type": "quantitative",
          "scale": {"domain": [6, 6.25], "nice": false, "zero": false, "round": true},
          "axis": {"title": null, "values": [6, 6.05, 6.1, 6.15, 6.2, 6.25], "format": "~g", "labelPadding": 4, "gridColor": "#daa520"}},
        "color": {"field": "s", "type": "nominal",
          "scale": {"domain": ["19", "18", "17"], "range": ["#33bb33", "#ff0000", "#3399ff"]},
          "legend": {"title": null, "orient": "none", "legendX": 391, "legendY": 9, "direction": "vertical",
            "strokeColor": "#daa520", "padding": 6, "symbolType": "M-0.9,0H2.7", "symbolSize": 144, "symbolStrokeWidth": 3,
            "labelFont": "Liberation Sans, Noto Sans CJK SC", "labelFontSize": 12, "labelColor": "#000000", "labelOffset": 14, "rowPadding": 1.5, "labelLimit": 300,
            "labelExpr": "datum.label === '19' ? '01月19日 收盘价6.21' : datum.label === '18' ? '01月18日 收盘价6.20' : '01月17日 收盘价6.11'"}}
      }
    },
    {
      "data": {"values": [{"label": "纸白银", "t": 8.075, "v": 6.2593}]},
      "mark": {"type": "text", "font": "Noto Sans CJK SC", "fontSize": 19, "fontWeight": "bold", "color": "#ff0000", "align": "center", "baseline": "middle"},
      "encoding": {"x": {"field": "t", "type": "quantitative", "axis": {"title": null}}, "y": {"field": "v", "type": "quantitative", "axis": {"title": null}}, "text": {"field": "label"}}
    },
    {
      "data": {"values": [{"label": "人民币／克", "t": 18.0, "v": 6.2582}]},
      "mark": {"type": "text", "font": "Noto Sans CJK SC", "fontSize": 12, "color": "#000000", "align": "center", "baseline": "middle"},
      "encoding": {"x": {"field": "t", "type": "quantitative", "axis": {"title": null}}, "y": {"field": "v", "type": "quantitative", "axis": {"title": null}}, "text": {"field": "label"}}
    },
    {
      "data": {"values": [{"label": "北京时间 2012年1月19日 13:18:00", "t": 29.2, "v": 6.2567}]},
      "mark": {"type": "text", "font": "Liberation Sans, Noto Sans CJK SC", "fontSize": 11.5, "color": "#000000", "align": "right", "baseline": "middle"},
      "encoding": {"x": {"field": "t", "type": "quantitative", "axis": {"title": null}}, "y": {"field": "v", "type": "quantitative", "axis": {"title": null}}, "text": {"field": "label"}}
    },
    {
      "data": {"values": [{"label": "纸黄金网", "t": 8.896, "v": 6.2285}]},
      "mark": {"type": "text", "font": "Noto Sans CJK SC", "fontSize": 23, "color": "#6b6bef", "align": "center", "baseline": "middle"},
      "encoding": {"x": {"field": "t", "type": "quantitative", "axis": {"title": null}}, "y": {"field": "v", "type": "quantitative", "axis": {"title": null}}, "text": {"field": "label"}}
    },
    {
      "data": {"values": [{"label": "www.zhihuangjin.com", "t": 24.0, "v": 6.0173}]},
      "mark": {"type": "text", "font": "DejaVu Sans", "fontSize": 17, "fontWeight": "bold", "color": "#6060f0", "align": "center", "baseline": "middle"},
      "encoding": {"x": {"field": "t", "type": "quantitative", "axis": {"title": null}}, "y": {"field": "v", "type": "quantitative", "axis": {"title": null}}, "text": {"field": "label"}}
    }
  ]
}
